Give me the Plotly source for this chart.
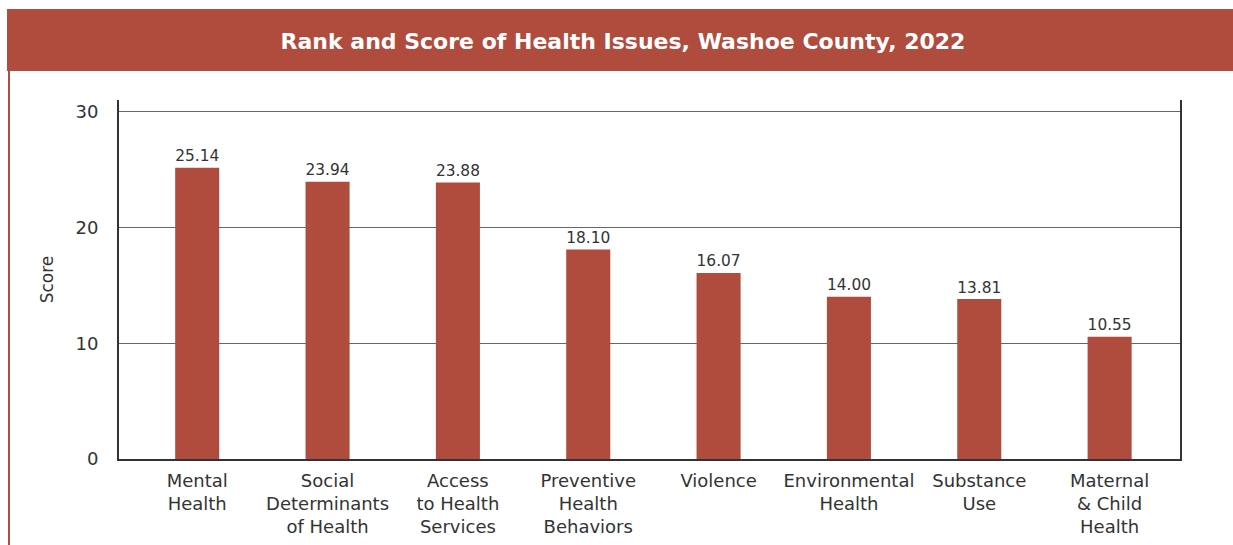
import plotly.graph_objects as go

categories = ["Mental<br>Health", "Social<br>Determinants<br>of Health", "Access<br>to Health<br>Services",
              "Preventive<br>Health<br>Behaviors", "Violence", "Environmental<br>Health",
              "Substance<br>Use", "Maternal<br>& Child<br>Health"]
scores = [25.14, 23.94, 23.88, 18.10, 16.07, 14.00, 13.81, 10.55]
tick_vals = [0, 10, 20, 30]

RED = "#b04c3e"
TXT = "#333333"
FONT = "DejaVu Sans"

W, H = 1233, 545
L, R, T, B = 119, 53, 100, 86
PW, PH = W - L - R, H - T - B

fig = go.Figure(go.Bar(
    x=categories, y=scores, marker=dict(color=RED, line=dict(width=0)),
    text=[f"{v:.2f}" for v in scores], textposition="outside",
    textfont=dict(size=18, color=TXT, family=FONT), cliponaxis=False,
))

fig.update_layout(
    width=W, height=H, paper_bgcolor="white", plot_bgcolor="white",
    margin=dict(l=L, r=R, t=T, b=B, autoexpand=False),
    showlegend=False, bargap=0.662,
    font=dict(family=FONT, color=TXT, size=17),
    title=dict(text="<b>Rank and Score of Health Issues, Washoe County, 2022</b>",
               xref="container", yref="container",
               x=623 / W, xanchor="center", y=1 - 41 / H, yanchor="middle",
               font=dict(size=22, color="white", family=FONT)),
    shapes=[
        dict(type="rect", xref="paper", yref="paper", x0=-(L - 7) / PW, x1=1 + R / PW,
             y0=1 + (T - 71) / PH, y1=1 + (T - 9) / PH, fillcolor=RED, line=dict(width=0), layer="below"),
        dict(type="line", xref="paper", yref="paper", x0=-(L - 9) / PW, x1=-(L - 9) / PW,
             y0=-B / PH, y1=1 + (T - 71) / PH, line=dict(color=RED, width=2)),
    ],
)
fig.update_yaxes(range=[0, 31], tickvals=tick_vals, showgrid=True, gridcolor="#666666", gridwidth=1,
                 showline=True, linecolor="#333333", linewidth=2, mirror=True, zeroline=False,
                 automargin=False,
                 ticklabelstandoff=15, tickfont=dict(size=18, color=TXT),
                 title=dict(text="Score", font=dict(size=17, color=TXT), standoff=18))
fig.update_xaxes(range=[-0.6, 7.54], showline=True, linecolor="#333333", linewidth=2,
                 tickfont=dict(size=18, color=TXT),
                 tickangle=0, ticklabelstandoff=4, automargin=False)

fig.write_html("out.html", config={"displayModeBar": False},
               post_script="document.body.style.margin='0';document.documentElement.style.overflow='hidden';")
